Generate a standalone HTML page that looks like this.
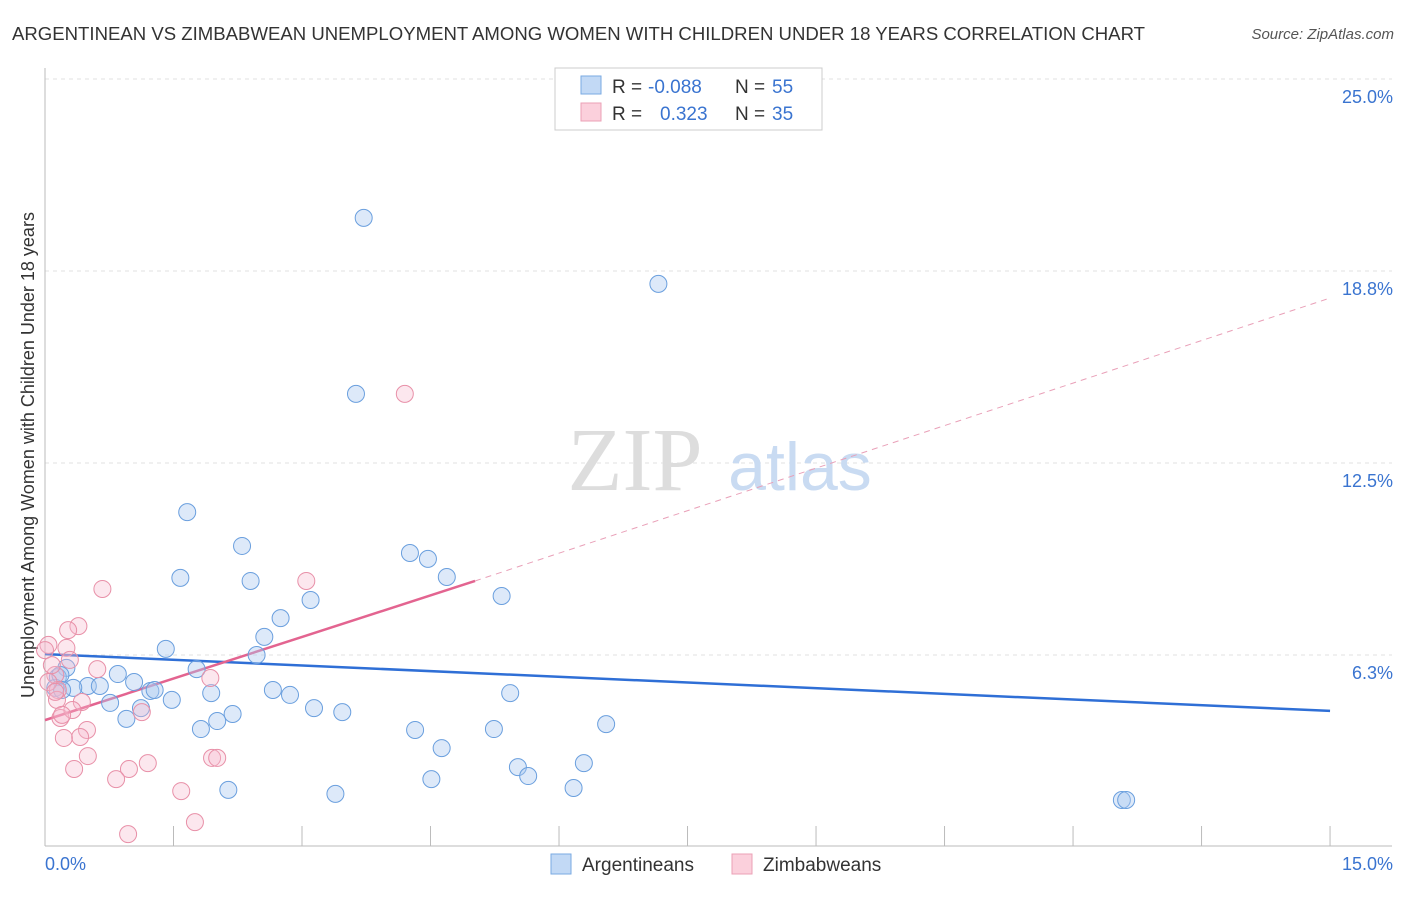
<!DOCTYPE html>
<html><head><meta charset="utf-8"><style>
body{margin:0;background:#fff;font-family:"Liberation Sans",sans-serif;}
</style></head><body>
<svg width="1406" height="892" viewBox="0 0 1406 892" xmlns="http://www.w3.org/2000/svg">
<text x="12" y="40" font-size="18" fill="#333" textLength="1133" lengthAdjust="spacingAndGlyphs">ARGENTINEAN VS ZIMBABWEAN UNEMPLOYMENT AMONG WOMEN WITH CHILDREN UNDER 18 YEARS CORRELATION CHART</text>
<text x="1394" y="39" font-size="15" fill="#555" font-style="italic" text-anchor="end">Source: ZipAtlas.com</text>
<g id="grid"></g>
<g><text x="635" y="490" font-size="90" font-family="Liberation Serif,serif" fill="#ddd" text-anchor="middle">ZIP</text><text x="800" y="490" font-size="68" fill="#c9dbf2" text-anchor="middle">atlas</text></g>
<line x1="45" y1="68" x2="45" y2="846" stroke="#bbb"/>
<line x1="45" y1="846" x2="1392" y2="846" stroke="#bbb"/>
<text x="45" y="870" font-size="18" fill="#3a74d0">0.0%</text>
<text x="1393" y="870" font-size="18" fill="#3a74d0" text-anchor="end">15.0%</text>
<text transform="translate(34,455) rotate(-90)" font-size="18" fill="#333" text-anchor="middle">Unemployment Among Women with Children Under 18 years</text>
<g id="lines"></g>
<g id="points"></g>
<g>
<rect x="555" y="68" width="267" height="62" fill="#fff" stroke="#ccc"/>
<rect x="581" y="76" width="20" height="18" fill="#c2d9f5" stroke="#7aaae2"/>
<rect x="581" y="103" width="20" height="18" fill="#fbd0dc" stroke="#eba0b6"/>
<text x="612" y="93" font-size="19" fill="#333">R = <tspan fill="#3a74d0" x="648">-0.088</tspan><tspan x="735">N = </tspan><tspan fill="#3a74d0" x="772">55</tspan></text>
<text x="612" y="120" font-size="19" fill="#333">R = <tspan fill="#3a74d0" x="660">0.323</tspan><tspan x="735">N = </tspan><tspan fill="#3a74d0" x="772">35</tspan></text>
</g>
<g>
<rect x="551" y="854" width="20" height="20" fill="#c2d9f5" stroke="#7aaae2"/>
<text x="582" y="871" font-size="19" fill="#333">Argentineans</text>
<rect x="732" y="854" width="20" height="20" fill="#fbd0dc" stroke="#eba0b6"/>
<text x="763" y="871" font-size="19" fill="#333">Zimbabweans</text>
</g>
</svg>
<script>
const yTicks=[25.0,18.8,12.5,6.3];
const yTickVals=[25,18.75,12.5,6.25];
const xTicks=[0,1.5,3,4.5,6,7.5,9,10.5,12,13.5,15];
const blueX=[3.72,7.16,3.63,1.66,2.30,4.26,4.47,1.58,2.40,4.69,5.33,3.10,2.75,2.56,1.41,2.47,0.25,1.77,0.85,0.15,1.04,0.50,0.64,0.33,0.12,1.23,1.28,1.94,2.66,2.86,5.43,0.76,1.48,1.12,3.14,3.47,2.19,0.95,2.01,1.82,4.32,5.24,6.55,4.63,5.52,5.64,6.29,4.51,2.14,6.17,3.39,12.57,12.62,0.18,0.20];
const blueY=[20.48,18.33,14.75,10.90,9.80,9.57,9.38,8.76,8.66,8.79,8.17,8.04,7.45,6.84,6.45,6.25,5.83,5.79,5.63,5.53,5.37,5.24,5.24,5.18,5.18,5.08,5.11,5.01,5.11,4.95,5.01,4.69,4.79,4.52,4.52,4.39,4.33,4.17,4.10,3.84,3.81,3.84,4.00,3.22,2.60,2.31,2.73,2.21,1.86,1.92,1.73,1.53,1.53,5.60,5.11];
const pinkX=[4.20,0.67,3.05,0.39,0.27,0.25,0.29,0.61,1.93,0.04,0.12,0.15,0.43,1.13,0.14,0.18,0.32,0.49,0.41,0.22,0.50,1.20,0.98,0.34,0.83,1.95,2.01,1.59,1.75,0.97,0.08,0.04,0.12,0.20,0.00];
const pinkY=[14.75,8.40,8.66,7.19,7.06,6.48,6.09,5.79,5.50,6.58,5.60,5.11,4.72,4.39,4.79,4.20,4.46,3.81,3.58,3.55,2.96,2.73,2.54,2.54,2.21,2.90,2.90,1.82,0.81,0.42,5.92,5.37,5.05,4.30,6.41];
const blueTrend=[[0,6.28],[15,4.43]];
const pinkTrend=[[0,4.13],[5.02,8.66]];
const pinkDash=[[5.02,8.66],[15,17.87]];
const sx=v=>45+v*85.67, sy=v=>847-v*30.72;
const NS="http://www.w3.org/2000/svg";
function mk(t,a,p){const e=document.createElementNS(NS,t);for(const k in a)e.setAttribute(k,a[k]);p.appendChild(e);return e;}
const grid=document.getElementById('grid');
yTickVals.forEach((v,i)=>{
 const l=mk('line',{x1:45,x2:1392,y1:sy(v),y2:sy(v),stroke:'#e2e2e2','stroke-dasharray':'4,4'},grid);
 
 
 const t=mk('text',{x:1393,y:sy(v)+24,'font-size':18,fill:'#3a74d0','text-anchor':'end'},grid);
 t.textContent=yTicks[i].toFixed(1)+'%';
 
 
});
xTicks.forEach(v=>{
 const l=mk('line',{x1:sx(v),x2:sx(v),y1:826,y2:846,stroke:'#bbb'},grid);
 
 
});
const lines=document.getElementById('lines');
function seg(p,st,dash,name){const l=mk('line',{x1:sx(p[0][0]),y1:sy(p[0][1]),x2:sx(p[1][0]),y2:sy(p[1][1]),stroke:st,'stroke-width':dash?1:2.5},lines);if(dash)l.setAttribute('stroke-dasharray','6,5');
 
 }
seg(blueTrend,'#2f6fd6',false,'argentinean-trendline');
seg(pinkTrend,'#e36490',false,'zimbabwean-trendline');
seg(pinkDash,'#e9a0b8',true,'zimbabwean-trendline-extension');
const pts=document.getElementById('points');
blueX.forEach((x,i)=>{const c=mk('circle',{cx:sx(x),cy:sy(blueY[i]),r:8.5,fill:'rgba(170,200,240,0.4)',stroke:'#6a9fde','stroke-width':1},pts);
 
 });
pinkX.forEach((x,i)=>{const c=mk('circle',{cx:sx(x),cy:sy(pinkY[i]),r:8.5,fill:'rgba(246,185,205,0.35)',stroke:'#e890a8','stroke-width':1},pts);
 
 });
</script>
</body></html>
